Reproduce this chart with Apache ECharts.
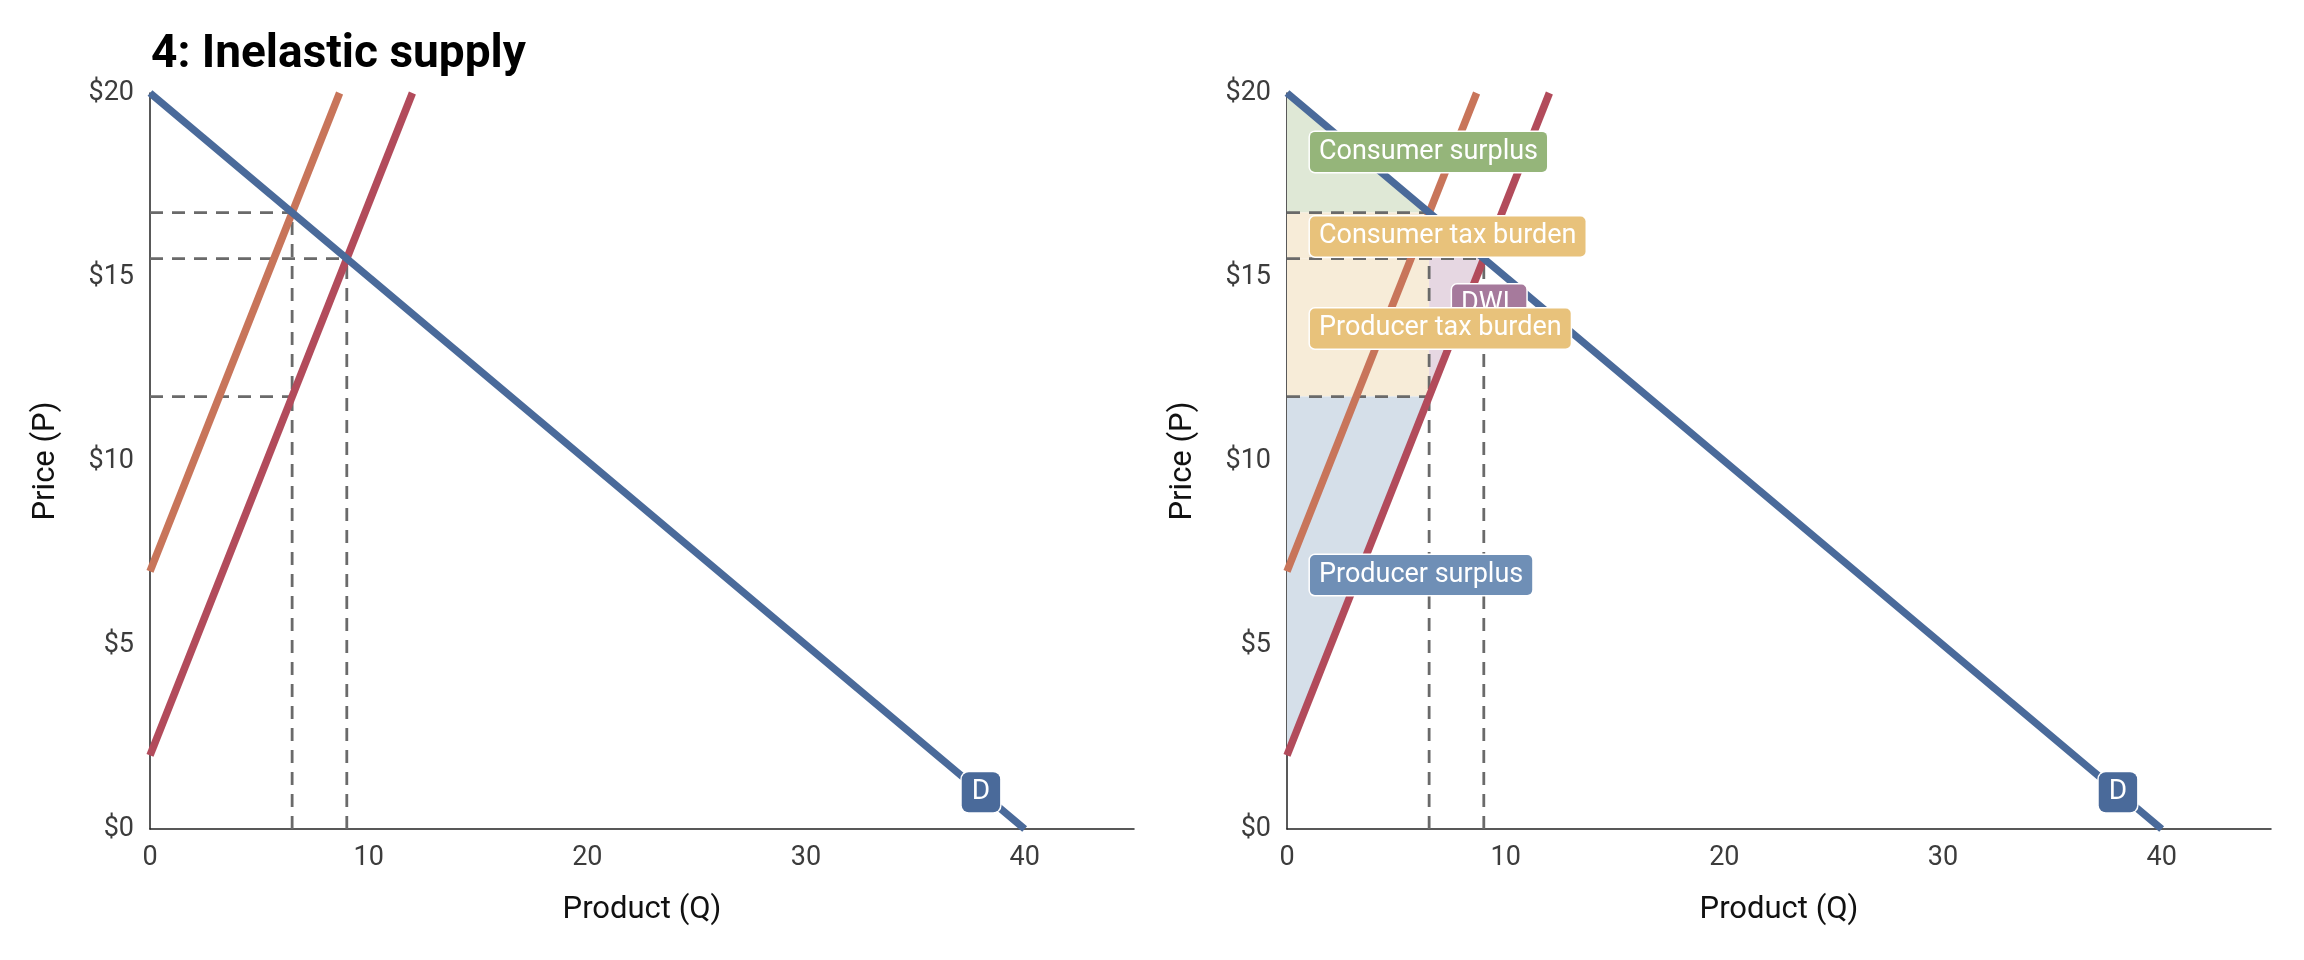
<!DOCTYPE html>
<html>
<head>
<meta charset="utf-8">
<script src="https://cdn.jsdelivr.net/npm/echarts@6/dist/echarts.min.js"></script>
<style>
html,body{margin:0;padding:0;background:#fff;}
#chart{width:2304px;height:960px;}
</style>
</head>
<body>
<div id="chart"></div>
<script>
// ---- data ----
const titleText = '4: Inelastic supply';
const xName = 'Product (Q)';
const yName = 'Price (P)';
const xTicks = [0, 10, 20, 30, 40];
const yTicks = [0, 5, 10, 15, 20];
const demand = [[0, 20], [40, 0]];
const supplyTaxed = [[0, 7], [8.67, 20]];
const supply = [[0, 2], [12, 20]];
const dashedSegments = [
  [[0, 16.75], [6.5, 16.75]],
  [[0, 15.5], [9, 15.5]],
  [[0, 11.75], [6.5, 11.75]],
  [[6.5, 0], [6.5, 16.75]],
  [[9, 0], [9, 15.5]]
];
const areaConsumerSurplus = [[0, 20], [6.5, 16.75], [0, 16.75]];
const areaConsumerTax = [[0, 16.75], [6.5, 16.75], [6.5, 15.5], [0, 15.5]];
const areaProducerTax = [[0, 15.5], [6.5, 15.5], [6.5, 11.75], [0, 11.75]];
const areaDWL = [[6.5, 16.75], [9, 15.5], [6.5, 11.75]];
const areaProducerSurplus = [[0, 11.75], [6.5, 11.75], [0, 2]];
const labelNames = ['Consumer surplus', 'Consumer tax burden', 'DWL', 'Producer tax burden', 'Producer surplus'];
const labelPoints = [[1.05, 18.4], [1.05, 16.1], [7.55, 14.25], [1.05, 13.6], [1.05, 6.9]];
const demandLabel = 'D';
const demandLabelPoint = [38, 1];

// ---- styles ----
const FONT = 'Roboto, "Noto Sans", sans-serif';
const C = {
  demand: '#4a6a9a', supplyTaxed: '#c8755a', supply: '#b24b5b', dash: '#6a6a6a',
  cs: '#dfe8d6', tax: '#f7ecd8', dwl: '#e6d7e2', ps: '#d5dfe9',
  csL: '#95b57a', taxL: '#e8c27b', dwlL: '#a67a9c', psL: '#6f8fb6'
};
const areaFills = [C.cs, C.tax, C.tax, C.dwl, C.ps];
const areas = [areaConsumerSurplus, areaConsumerTax, areaProducerTax, areaDWL, areaProducerSurplus];
const labelColors = [C.csL, C.taxL, C.dwlL, C.taxL, C.psL];
const labelZ = [10, 10, 9, 11, 10];

const grids = [
  {left: 150, top: 93, width: 984, height: 736},
  {left: 1287, top: 93, width: 984, height: 736}
];

function xAxis(i) {
  return {
    gridIndex: i, type: 'value', min: 0, max: 45, interval: 10,
    name: xName, nameLocation: 'middle', nameGap: 66,
    nameTextStyle: {fontFamily: FONT, fontSize: 31, color: '#111'},
    axisLine: {show: true, onZero: false, lineStyle: {color: '#222', width: 1.5}},
    axisTick: {show: false}, splitLine: {show: false},
    axisLabel: {fontFamily: FONT, fontSize: 27, color: '#3c3c3c', margin: 16,
      formatter: v => xTicks.indexOf(v) >= 0 ? String(v) : ''}
  };
}
function yAxis(i) {
  return {
    gridIndex: i, type: 'value', min: 0, max: 20, interval: 5,
    name: yName, nameLocation: 'middle', nameGap: 88,
    nameTextStyle: {fontFamily: FONT, fontSize: 31, color: '#111'},
    axisLine: {show: true, onZero: false, lineStyle: {color: '#222', width: 1.5}},
    axisTick: {show: false}, splitLine: {show: false},
    axisLabel: {fontFamily: FONT, fontSize: 27, color: '#3c3c3c', margin: 16,
      formatter: v => yTicks.indexOf(v) >= 0 ? '$' + v : ''}
  };
}

const series = [];
function lineSeries(i, data, color, width, dashed, z) {
  series.push({
    type: 'line', xAxisIndex: i, yAxisIndex: i, data: data, symbol: 'none', silent: true,
    lineStyle: {color: color, width: width, type: dashed ? [13, 9] : 'solid', cap: 'butt'},
    z: z, animation: false
  });
}
// shaded areas (right chart only)
areas.forEach((poly, k) => {
  series.push({
    type: 'custom', xAxisIndex: 1, yAxisIndex: 1, silent: true, z: 1, animation: false,
    data: [[poly[0][0], poly[0][1]]],
    renderItem: (params, api) => ({
      type: 'polygon',
      shape: {points: poly.map(p => api.coord(p))},
      style: {fill: areaFills[k]}
    })
  });
});
[0, 1].forEach(i => {
  dashedSegments.forEach(seg => lineSeries(i, seg, C.dash, 2.8, true, 2));
  lineSeries(i, supplyTaxed, C.supplyTaxed, 7.5, false, 3);
  lineSeries(i, supply, C.supply, 7.5, false, 3);
  lineSeries(i, demand, C.demand, 7.5, false, 4);
  series.push({
    type: 'scatter', xAxisIndex: i, yAxisIndex: i, symbolSize: 0, silent: true, z: 10, animation: false,
    itemStyle: {opacity: 1},
    data: [{value: demandLabelPoint, name: demandLabel}],
    label: {show: true, position: 'inside', formatter: '{b}', fontFamily: FONT, fontSize: 28, lineHeight: 28,
      color: '#fff', backgroundColor: C.demand, borderColor: '#fff', borderWidth: 1.5, borderRadius: 7,
      padding: [6, 10]}
  });
});
labelNames.forEach((nm, k) => {
  series.push({
    type: 'scatter', xAxisIndex: 1, yAxisIndex: 1, symbolSize: 0, silent: true, z: labelZ[k], animation: false,
    itemStyle: {opacity: 1},
    data: [{value: labelPoints[k], name: nm}],
    label: {show: true, position: 'right', distance: 0, formatter: '{b}', fontFamily: FONT, fontSize: 27, lineHeight: 28,
      color: '#fff', backgroundColor: labelColors[k], borderColor: '#fff', borderWidth: 1.5, borderRadius: 5,
      padding: [6, 9]}
  });
});

const chart = echarts.init(document.getElementById('chart'));
chart.setOption({
  backgroundColor: '#fff',
  animation: false,
  title: {text: titleText, left: 146, top: 27,
    textStyle: {fontFamily: FONT, fontSize: 46, fontWeight: 'bold', color: '#000'}},
  grid: grids,
  xAxis: [xAxis(0), xAxis(1)],
  yAxis: [yAxis(0), yAxis(1)],
  series: series
});
</script>
</body>
</html>
